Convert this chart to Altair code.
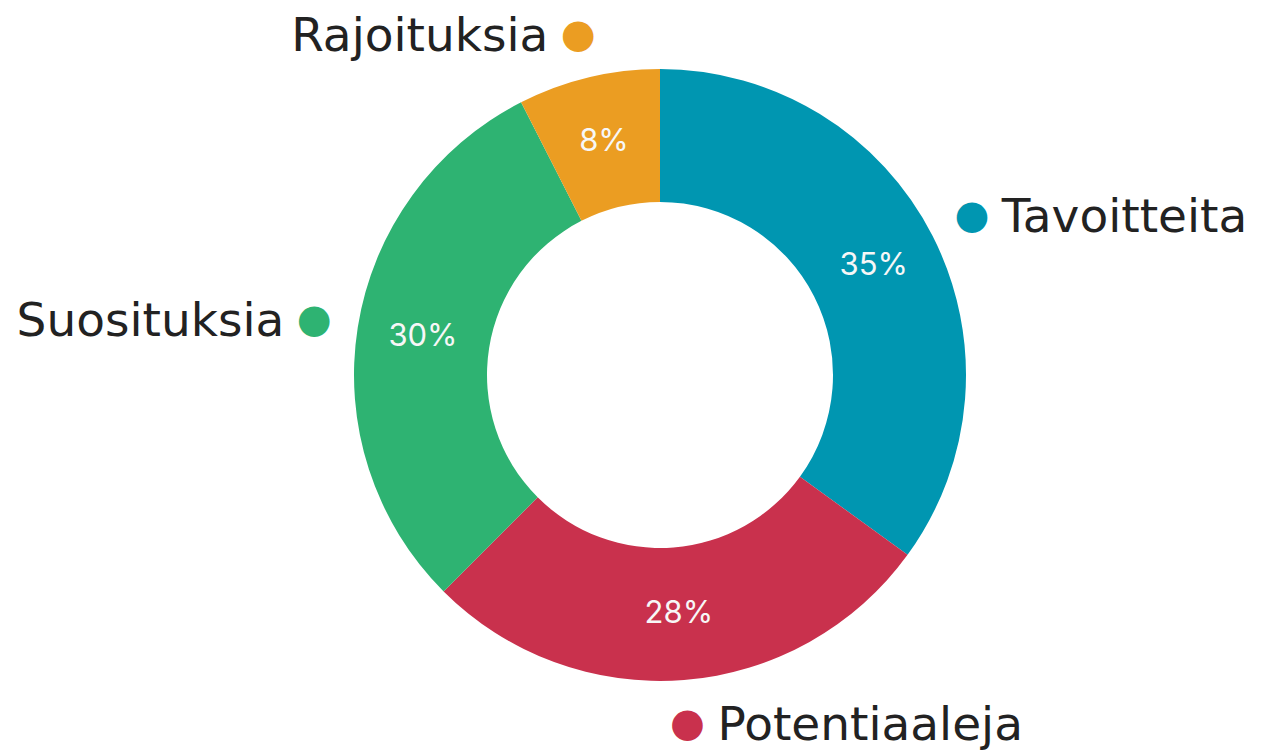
import altair as alt
import pandas as pd

categories = ["Tavoitteita", "Potentiaaleja", "Suosituksia", "Rajoituksia"]
values = [35.0, 27.5, 30.0, 7.5]
pct_labels = ["35%", "28%", "30%", "8%"]
side = ["L", "L", "R", "R"]  # L: text to the right of the dot, R: text to the left
colors = ["#0096B1", "#C9314D", "#2EB372", "#EB9D22"]

df = pd.DataFrame({
    "cat": categories,
    "val": values,
    "pct": pct_labels,
    "side": side,
    "idx": list(range(len(categories))),
})

FONT = "Inter"
LABEL_FONT = "DejaVu Sans"

base = alt.Chart(df).encode(
    theta=alt.Theta("val:Q", stack=True),
    order=alt.Order("idx:Q"),
    color=alt.Color("cat:N", scale=alt.Scale(domain=categories, range=colors), legend=None),
)

arcs = base.mark_arc(outerRadius=306, innerRadius=173)

pct = base.mark_text(radius=240, font=FONT, fontSize=31, baseline="middle", align="center").encode(
    text="pct:N", color=alt.value("#F7F7F7")
)

dots = base.mark_text(radius=350, font="DejaVu Sans", fontSize=40, baseline="middle", align="center").encode(
    text=alt.value("●")
)

left_text = base.transform_calculate(
    t="datum.side == 'L' ? datum.cat : ''"
).mark_text(radius=350, font=LABEL_FONT, fontSize=47, baseline="middle", align="left", dx=30, dy=2).encode(
    text="t:N", color=alt.value("#222222")
)

right_text = base.transform_calculate(
    t="datum.side == 'R' ? datum.cat : ''"
).mark_text(radius=350, font=LABEL_FONT, fontSize=47, baseline="middle", align="right", dx=-30, dy=2).encode(
    text="t:N", color=alt.value("#222222")
)

chart = alt.layer(arcs, pct, dots, left_text, right_text).properties(
    width=1206,
    height=750,
    padding={"left": 57, "top": 0, "right": 0, "bottom": 0},
    autosize=alt.AutoSizeParams(type="none"),
).configure_view(stroke=None)

chart.save("out.html", embed_options={"renderer": "svg", "actions": False})
